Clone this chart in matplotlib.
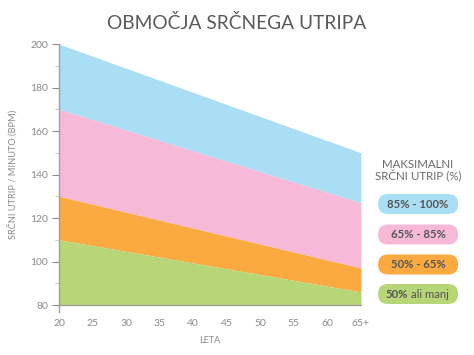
import matplotlib
matplotlib.use("Agg")
import matplotlib.pyplot as plt
from matplotlib.patches import FancyBboxPatch

ages = [20, 65]
top = [200, 150]
zone_85 = [170, 127]
zone_65 = [130, 97]
zone_50 = [110, 86]
floor = [80, 80]

x_ticks = [20, 25, 30, 35, 40, 45, 50, 55, 60, 65]
x_labels = ["20", "25", "30", "35", "40", "45", "50", "55", "60", "65+"]
y_ticks = [80, 100, 120, 140, 160, 180, 200]

zone_labels = ["85% - 100%", "65% - 85%", "50% - 65%", "50%"]
colors = ["#aadef5", "#f6bad8", "#faaa40", "#b7d678"]

plt.rcParams["font.family"] = ["Lato", "DejaVu Sans"]
grey = "#8a8a8a"

fig = plt.figure(figsize=(4.74, 3.55), dpi=100)
ax = fig.add_axes([0.1245, 0.1408, 0.637, 0.735])

bands = [(zone_85, top), (zone_65, zone_85), (zone_50, zone_65), (floor, zone_50)]
for (lo, hi), c in zip(bands, colors):
    ax.fill_between(ages, lo, hi, color=c, linewidth=0)

ax.set_xlim(20, 65)
ax.set_ylim(80, 200)
ax.set_xticks(x_ticks)
ax.set_xticklabels(x_labels)
ax.set_yticks(y_ticks)
ax.set_yticks(range(90, 200, 20), minor=True)
ax.tick_params(axis="x", length=0, pad=10, labelsize=7.5, colors=grey)
ax.tick_params(axis="y", which="major", length=5, width=0.8, pad=3, labelsize=7.5, colors=grey)
ax.tick_params(axis="y", which="minor", length=3, width=0.6, colors="#bbbbbb")
for s in ["top", "right"]:
    ax.spines[s].set_visible(False)
for s in ["left", "bottom"]:
    ax.spines[s].set_color("#a0a0a0")
    ax.spines[s].set_linewidth(1.0)
ax.plot([20, 20], [80, 77], color="#a0a0a0", lw=1.0, clip_on=False)

ax.set_xlabel("LETA", fontsize=6.5, color=grey, labelpad=6)
ax.set_ylabel("SRČNI UTRIP / MINUTO (BPM)", fontsize=6.7, color=grey, labelpad=9)

fig.text(0.5, 0.935, "OBMOČJA SRČNEGA UTRIPA", ha="center", va="center",
         fontsize=13.8, color="#5a5a5a")

fig.text(0.882, 0.52, "MAKSIMALNI\nSRČNI UTRIP (%)", ha="center", va="center",
         fontsize=8.3, color="#6a6a6a", linespacing=1.05)

pill_y = [204, 234.5, 264.5, 294]
w, h = 80 / 474, 20 / 355
for lab, c, py in zip(zone_labels, colors, pill_y):
    cy = 1 - py / 355
    box = FancyBboxPatch((0.882 - w / 2, cy - h / 2), w, h,
                         boxstyle="round,pad=0,rounding_size=0.0205",
                         transform=fig.transFigure, facecolor=c,
                         edgecolor="none", mutation_aspect=474 / 355)
    fig.add_artist(box)
    if lab == "50%":
        fig.text(408 / 474, cy, "50%", ha="right", va="center",
                 fontsize=8.2, fontweight="bold", color="#555555")
        fig.text(411 / 474, cy, "ali manj", ha="left", va="center",
                 fontsize=8.2, color="#555555")
    else:
        fig.text(0.882, cy, lab, ha="center", va="center",
                 fontsize=8.2, fontweight="bold", color="#555555")

fig.savefig("out.png", dpi=100)
